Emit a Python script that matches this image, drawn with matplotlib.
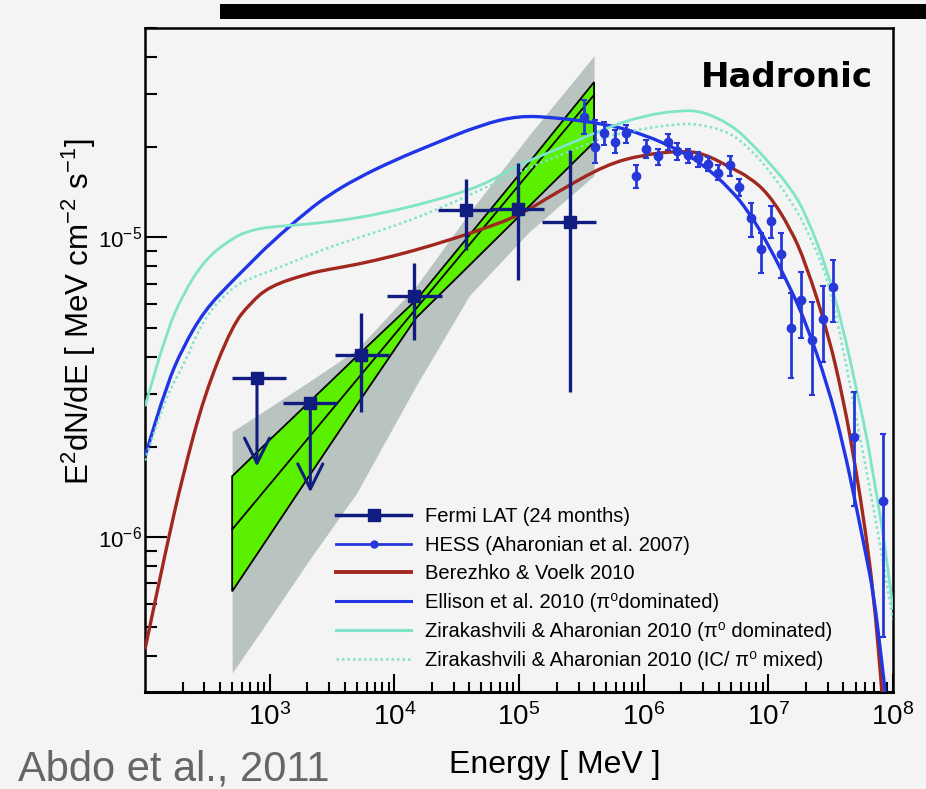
import matplotlib
matplotlib.use('Agg')
import matplotlib.pyplot as plt
from matplotlib.lines import Line2D
from matplotlib.patches import Rectangle, PathPatch
from matplotlib.path import Path
import numpy as np

plt.rcParams['font.family'] = ['Liberation Sans', 'DejaVu Sans']
plt.rcParams['mathtext.fontset'] = 'custom'
plt.rcParams['mathtext.rm'] = 'Liberation Sans'
plt.rcParams['mathtext.it'] = 'Liberation Sans:italic'

# ---- data (E in MeV, E^2 dN/dE in MeV cm^-2 s^-1) ----
fermi_E = [791, 2118, 5447, 14350, 37300, 97300, 256000]
fermi_E_lo = [498, 1279, 3365, 8650, 22550, 59300, 152500]
fermi_E_hi = [1352, 3475, 9038, 23900, 61500, 159000, 414000]
fermi_F = [3.40e-6, 2.80e-6, 4.06e-6, 6.38e-6, 1.236e-5, 1.242e-5, 1.129e-5]
fermi_F_lo = [1.72e-6, 1.41e-6, 2.61e-6, 4.55e-6, 9.1e-6, 7.22e-6, 3.06e-6]
fermi_F_hi = [3.40e-6, 2.80e-6, 5.58e-6, 8.2e-6, 1.563e-5, 1.775e-5, 1.96e-5]
fermi_ul = [True, True, False, False, False, False, False]

hess_E = [3.34e5, 4.07e5, 4.83e5, 5.93e5, 7.22e5, 8.69e5, 1.045e6, 1.30e6, 1.56e6,
          1.86e6, 2.26e6, 2.72e6, 3.27e6, 3.94e6, 4.89e6, 5.79e6, 7.21e6, 8.67e6,
          1.057e7, 1.27e7, 1.53e7, 1.84e7, 2.24e7, 2.75e7, 3.33e7, 4.82e7, 8.32e7]
hess_F = [2.53e-5, 2.01e-5, 2.23e-5, 2.08e-5, 2.23e-5, 1.60e-5, 1.98e-5, 1.87e-5, 2.08e-5,
          1.94e-5, 1.88e-5, 1.84e-5, 1.76e-5, 1.64e-5, 1.74e-5, 1.47e-5, 1.16e-5, 9.14e-6,
          1.138e-5, 8.79e-6, 4.98e-6, 6.19e-6, 4.55e-6, 5.34e-6, 6.82e-6, 2.16e-6, 1.32e-6]
hess_F_hi = [2.87e-5, 2.47e-5, 2.43e-5, 2.28e-5, 2.37e-5, 1.75e-5, 2.11e-5, 1.98e-5, 2.22e-5,
             2.06e-5, 1.98e-5, 1.93e-5, 1.86e-5, 1.75e-5, 1.87e-5, 1.57e-5, 1.30e-5, 1.033e-5,
             1.27e-5, 1.033e-5, 6.52e-6, 7.69e-6, 6.11e-6, 6.86e-6, 8.41e-6, 3.06e-6, 2.20e-6]
hess_F_lo = [2.22e-5, 1.77e-5, 2.03e-5, 1.91e-5, 2.06e-5, 1.46e-5, 1.84e-5, 1.75e-5, 1.96e-5,
             1.81e-5, 1.77e-5, 1.72e-5, 1.66e-5, 1.56e-5, 1.60e-5, 1.37e-5, 1.006e-5, 7.60e-6,
             9.94e-6, 7.31e-6, 3.40e-6, 4.61e-6, 2.99e-6, 3.85e-6, 5.24e-6, 1.27e-6, 4.64e-7]

# butterfly (green) and systematic band (gray)
band_E = [500, 1000, 2000, 5000, 15000, 40000, 120000, 400000]
green_hi = [1.596e-6, 2.11e-6, 2.78e-6, 4.01e-6, 6.19e-6, 1.018e-5, 1.775e-5, 3.30e-5]
green_lo = [6.59e-7, 1.014e-6, 1.563e-6, 2.76e-6, 5.40e-6, 8.07e-6, 1.268e-5, 2.08e-5]
gray_hi = [2.25e-6, 2.71e-6, 3.27e-6, 4.23e-6, 6.89e-6, 1.21e-5, 2.19e-5, 4.04e-5]
gray_lo = [3.52e-7, 5.35e-7, 8.2e-7, 1.406e-6, 3.21e-6, 6.40e-6, 1.042e-5, 1.61e-5]
fit_E = [500, 400000]
fit_F = [1.06e-6, 2.99e-5]

# model curves
model_E = [100, 150, 200, 300, 500, 700, 1e3, 2e3, 3e3, 5e3, 1e4, 2e4, 5e4, 1e5, 2e5, 5e5,
           1e6, 2e6, 3e6, 5e6, 7e6, 1e7, 1.5e7, 2e7, 3e7, 4e7, 5e7, 6e7, 7e7, 8e7, 9e7, 1e8]
berezhko = [4.22e-7, 9.42e-7, 1.59e-6, 2.99e-6, 5.07e-6, 6.04e-6, 6.87e-6, 7.56e-6, 7.83e-6,
            8.12e-6, 8.68e-6, 9.40e-6, 1.062e-5, 1.183e-5, 1.413e-5, 1.75e-5, 1.89e-5, 1.945e-5,
            1.91e-5, 1.71e-5, 1.59e-5, 1.40e-5, 1.074e-5, 8.18e-6, 4.81e-6, 2.88e-6, 1.71e-6,
            1.055e-6, 6.36e-7, 3.35e-7, 1.8e-7, 9e-8]
ellison = [1.86e-6, 3.23e-6, 4.27e-6, 5.71e-6, 7.14e-6, 8.20e-6, 9.52e-6, 1.225e-5, 1.387e-5,
           1.574e-5, 1.81e-5, 2.04e-5, 2.38e-5, 2.55e-5, 2.51e-5, 2.39e-5, 2.21e-5, 1.94e-5,
           1.75e-5, 1.445e-5, 1.213e-5, 9.46e-6, 6.78e-6, 5.19e-6, 3.20e-6, 2.02e-6, 1.30e-6,
           8.93e-7, 6.43e-7, 4.04e-7, 2.66e-7, 1.5e-7]
zira_pi0 = [2.73e-6, 4.87e-6, 6.42e-6, 8.42e-6, 9.95e-6, 1.056e-5, 1.084e-5, 1.107e-5, 1.128e-5,
            1.16e-5, 1.23e-5, 1.32e-5, 1.483e-5, 1.75e-5, 1.965e-5, 2.32e-5, 2.55e-5, 2.66e-5,
            2.63e-5, 2.38e-5, 2.10e-5, 1.79e-5, 1.47e-5, 1.197e-5, 7.73e-6, 4.92e-6, 3.22e-6,
            2.28e-6, 1.58e-6, 1.14e-6, 8.1e-7, 5.73e-7]
zira_mixed = [1.80e-6, 3.0e-6, 3.67e-6, 5.44e-6, 6.81e-6, 7.31e-6, 7.71e-6, 8.67e-6, 9.27e-6,
              9.94e-6, 1.093e-5, 1.217e-5, 1.445e-5, 1.656e-5, 1.86e-5, 2.18e-5, 2.31e-5, 2.40e-5,
              2.38e-5, 2.23e-5, 1.99e-5, 1.69e-5, 1.333e-5, 1.084e-5, 7.32e-6, 4.22e-6, 2.56e-6,
              1.745e-6, 1.235e-6, 9.08e-7, 6.79e-7, 5.31e-7]

legend_labels = ['Fermi LAT (24 months)',
                 'HESS (Aharonian et al. 2007)',
                 'Berezhko & Voelk 2010',
                 'Ellison et al. 2010 (π⁰dominated)',
                 'Zirakashvili & Aharonian 2010 (π⁰ dominated)',
                 'Zirakashvili & Aharonian 2010 (IC/ π⁰ mixed)']

BG = '#f4f4f4'
NAVY = '#101c80'
HBLUE = '#2638d8'
BLUE = '#1f35e6'
RED = '#a0281e'
AQUA = '#7fe4c8'
GREEN = '#5af000'
GRAY = '#b9c3c0'


def smooth_curve(ax, xs, ys, **kw):
    # quadratic bezier through the midpoints (in log space) of the read points
    lx = np.log10(xs)
    ly = np.log10(ys)
    mx = 10 ** ((lx[:-1] + lx[1:]) / 2)
    my = 10 ** ((ly[:-1] + ly[1:]) / 2)
    verts = [(xs[0], ys[0]), (mx[0], my[0])]
    codes = [Path.MOVETO, Path.LINETO]
    for i in range(1, len(xs) - 1):
        verts += [(xs[i], ys[i]), (mx[i], my[i])]
        codes += [Path.CURVE3, Path.CURVE3]
    verts.append((xs[-1], ys[-1]))
    codes.append(Path.LINETO)
    ax.add_patch(PathPatch(Path(verts, codes), fill=False, **kw))


fig = plt.figure(figsize=(9.26, 7.89), dpi=100, facecolor=BG)
ax = fig.add_axes([0.1566, 0.1229, 0.8078, 0.8416], facecolor=BG)
ax.set_xscale('log')
ax.set_yscale('log')
ax.set_xlim(100, 1e8)
ax.set_ylim(3.04e-7, 5e-5)

ax.fill_between(band_E, gray_lo, gray_hi, color=GRAY, lw=0, zorder=1)
ax.fill(np.r_[band_E, band_E[::-1]], np.r_[green_lo, green_hi[::-1]],
        facecolor=GREEN, edgecolor='black', lw=1.3, zorder=2)
ax.plot(fit_E, fit_F, color='black', lw=1.3, zorder=2)

mE = np.array(model_E)
smooth_curve(ax, mE, np.array(berezhko), edgecolor=RED, lw=2.4, zorder=3)
smooth_curve(ax, mE, np.array(ellison), edgecolor=BLUE, lw=2.4, zorder=3)
smooth_curve(ax, mE, np.array(zira_pi0), edgecolor=AQUA, lw=2.0, zorder=3)
smooth_curve(ax, mE, np.array(zira_mixed), edgecolor=AQUA, lw=1.8, ls=(0, (1, 1.2)), zorder=3)

fE = np.array(fermi_E)
fF = np.array(fermi_F)
xerr = [fE - np.array(fermi_E_lo), np.array(fermi_E_hi) - fE]
yerr = [fF - np.array(fermi_F_lo), np.array(fermi_F_hi) - fF]
det = ~np.array(fermi_ul)
ax.errorbar(fE[det], fF[det], xerr=[xerr[0][det], xerr[1][det]],
            yerr=[yerr[0][det], yerr[1][det]], fmt='s', ms=8, color=NAVY,
            elinewidth=2.4, capsize=0, zorder=5)
ul = np.array(fermi_ul)
ax.errorbar(fE[ul], fF[ul], xerr=[xerr[0][ul], xerr[1][ul]], fmt='s', ms=8,
            color=NAVY, elinewidth=2.4, capsize=0, zorder=5)
for e, f, lo in zip(fE[ul], fF[ul], np.array(fermi_F_lo)[ul]):
    ax.annotate('', xy=(e, lo), xytext=(e, f), zorder=5,
                arrowprops=dict(arrowstyle='->,head_length=0.9,head_width=0.45',
                                color=NAVY, lw=2.2, shrinkA=0, shrinkB=0,
                                mutation_scale=20))

hE = np.array(hess_E)
hF = np.array(hess_F)
ax.errorbar(hE, hF, yerr=[hF - np.array(hess_F_lo), np.array(hess_F_hi) - hF],
            fmt='o', ms=6, color=HBLUE, elinewidth=2, capsize=2, capthick=1.5, zorder=6)

ax.set_xticks([1e3, 1e4, 1e5, 1e6, 1e7, 1e8])

ax.tick_params(axis='x', which='major', direction='in', length=13, width=1.5,
               labelsize=20, pad=8, top=False)
ax.tick_params(axis='x', which='minor', direction='in', length=7, width=1.5, top=False)
ax.tick_params(axis='y', which='major', direction='in', length=16, width=1.5,
               labelsize=16, pad=2, right=False)
ax.tick_params(axis='y', which='minor', direction='in', length=8.5, width=1.5, right=False)
for s in ax.spines.values():
    s.set_linewidth(1.8)
ax.spines['bottom'].set_linewidth(2.2)

handles = [Line2D([], [], color=NAVY, lw=2.5, marker='s', ms=8),
           Line2D([], [], color=HBLUE, lw=2, marker='o', ms=5),
           Line2D([], [], color=RED, lw=2.8),
           Line2D([], [], color=BLUE, lw=2.2),
           Line2D([], [], color=AQUA, lw=2.2),
           Line2D([], [], color=AQUA, lw=1.8, ls=(0, (1, 1.2)))]
ax.legend(handles, legend_labels, loc='lower left', bbox_to_anchor=(0.245, 0.021),
          frameon=False, fontsize=14.5, handlelength=3.7, handletextpad=0.7,
          labelspacing=0.49, borderaxespad=0, numpoints=1)

ax.text(0.973, 0.925, 'Hadronic', transform=ax.transAxes, ha='right', va='center',
        fontsize=24.5, fontweight='bold', family='DejaVu Sans', zorder=7)

fig.text(555 / 926, 1 - 765 / 789, 'Energy [ MeV ]', ha='center', va='center', fontsize=23)
fig.text(79 / 926, 1 - 312 / 789, 'E$^{2}$dN/dE [ MeV cm$^{-2}$ s$^{-1}$]',
         rotation=90, ha='center', va='center', fontsize=22.5)

fig.text(18 / 926, 1 - 780 / 789, 'Abdo et al., 2011', ha='left', va='baseline',
         fontsize=30, color='#666666')

fig.add_artist(Rectangle((220 / 926, 1 - 19 / 789), 706 / 926, 15 / 789,
                         transform=fig.transFigure, facecolor='black', lw=0))

fig.savefig('out.png', dpi=100, facecolor=BG)
